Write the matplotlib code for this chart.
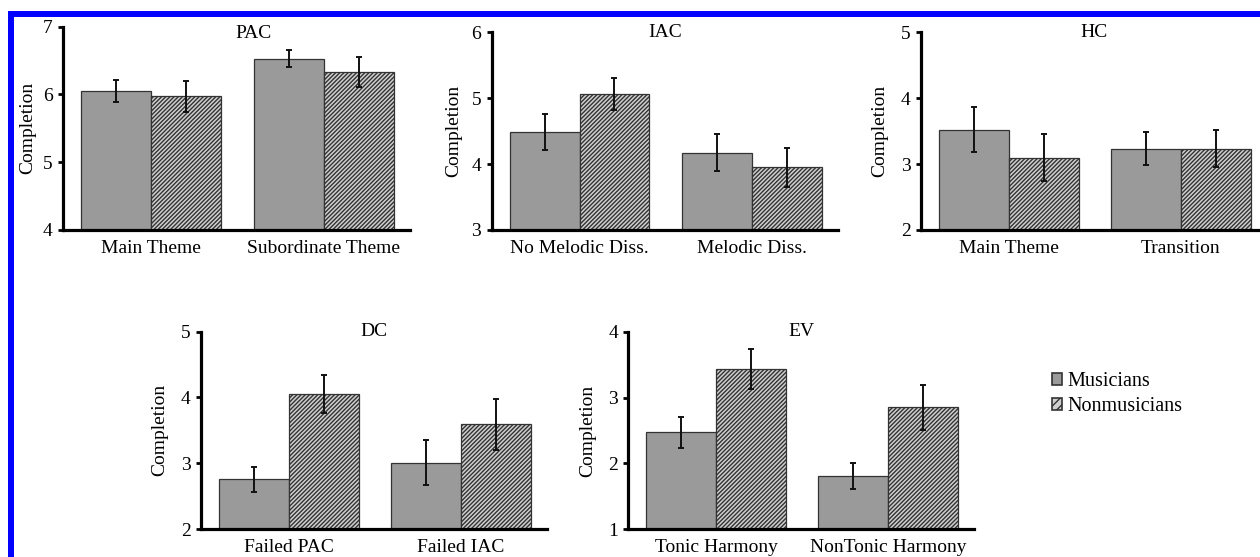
import matplotlib
matplotlib.use("Agg")
import matplotlib.pyplot as plt
from matplotlib.patches import Rectangle, Patch
import numpy as np

plt.rcParams['font.family'] = ['Liberation Serif', 'DejaVu Serif']
plt.rcParams['hatch.linewidth'] = 1.0
plt.rcParams['hatch.color'] = '#3a3a3a'

# ---- data ----
pac_cats = ['Main Theme', 'Subordinate Theme']
pac_mus = [6.05, 6.53]
pac_mus_err = [0.16, 0.12]
pac_non = [5.97, 6.33]
pac_non_err = [0.235, 0.22]

iac_cats = ['No Melodic Diss.', 'Melodic Diss.']
iac_mus = [4.49, 4.17]
iac_mus_err = [0.275, 0.28]
iac_non = [5.06, 3.95]
iac_non_err = [0.24, 0.29]

hc_cats = ['Main Theme', 'Transition']
hc_mus = [3.52, 3.23]
hc_mus_err = [0.34, 0.25]
hc_non = [3.10, 3.23]
hc_non_err = [0.355, 0.28]

dc_cats = ['Failed PAC', 'Failed IAC']
dc_mus = [2.76, 3.01]
dc_mus_err = [0.19, 0.34]
dc_non = [4.05, 3.59]
dc_non_err = [0.29, 0.39]

ev_cats = ['Tonic Harmony', 'NonTonic Harmony']
ev_mus = [2.47, 1.81]
ev_mus_err = [0.24, 0.20]
ev_non = [3.43, 2.85]
ev_non_err = [0.30, 0.34]

W, H = 1260, 557
fig = plt.figure(figsize=(W / 100, H / 100), dpi=100)

def px_axes(left, top, right, bottom):
    return fig.add_axes([left / W, 1 - bottom / H, (right - left) / W, (bottom - top) / H])

panels = [
    ('PAC', pac_cats, pac_mus, pac_mus_err, pac_non, pac_non_err, (4, 7), (63, 26.7, 410, 230), 0.55, 0.969, -0.078),
    ('IAC', iac_cats, iac_mus, iac_mus_err, iac_non, iac_non_err, (3, 6), (491.7, 32.3, 838, 230), 0.5, 1.0, -0.086),
    ('HC', hc_cats, hc_mus, hc_mus_err, hc_non, hc_non_err, (2, 5), (921, 32.3, 1267, 230), 0.5, 1.0, -0.095),
    ('DC', dc_cats, dc_mus, dc_mus_err, dc_non, dc_non_err, (2, 5), (201, 331.7, 547, 529), 0.5, 1.0, -0.095),
    ('EV', ev_cats, ev_mus, ev_mus_err, ev_non, ev_non_err, (1, 4), (628.3, 331.7, 974, 529.3), 0.5, 1.0, -0.094),
]

bw = 0.405
gray = '#9a9a9a'
hatch_face = '#cfcfcf'
edge = '#333333'
hatch = '////////'
for title, cats, mus, muse, non, none_, ylim, box, tx, ty, ylx in panels:
    ax = px_axes(*box)
    x = np.arange(len(cats))
    ax.bar(x - bw / 2, mus, bw, color=gray, edgecolor=edge, linewidth=0.9,
           yerr=muse, capsize=2.2, error_kw=dict(ecolor='#111111', elinewidth=1.4, capthick=1.4), zorder=2)
    ax.bar(x + bw / 2, non, bw, color=hatch_face, edgecolor=edge, linewidth=0.9, hatch=hatch,
           yerr=none_, capsize=2.2, error_kw=dict(ecolor='#111111', elinewidth=1.4, capthick=1.4), zorder=2)
    ax.set_ylim(*ylim)
    ax.set_xlim(-0.51, 1.5)
    ax.set_yticks(np.arange(ylim[0], ylim[1] + 1))
    ax.set_xticks(x)
    ax.set_xticklabels(cats, fontsize=14)
    ax.tick_params(axis='x', length=0, pad=7)
    ax.tick_params(axis='y', direction='out', length=3.5, width=2, pad=4, labelsize=14)
    for s in ['top', 'right']:
        ax.spines[s].set_visible(False)
    for s in ['left', 'bottom']:
        ax.spines[s].set_linewidth(2.3)
        ax.spines[s].set_color('black')
    ax.set_ylabel('Completion', fontsize=14)
    ax.yaxis.set_label_coords(ylx, 0.5)
    ax.text(tx, ty, title, transform=ax.transAxes, ha='center', va='center', fontsize=14)

handles = [Patch(facecolor=gray, edgecolor=edge, linewidth=1.2),
           Patch(facecolor=hatch_face, edgecolor=edge, hatch='////', linewidth=1.2)]
fig.legend(handles, ['Musicians', 'Nonmusicians'], loc='upper left',
           bbox_to_anchor=(1052 / W, 1 - 372 / H), frameon=False, fontsize=14.5,
           handlelength=0.5, handleheight=0.5, handletextpad=0.25, labelspacing=0.3,
           borderpad=0, borderaxespad=0)

# blue frame lines seen at top and left of the picture
fig.add_artist(Rectangle((8 / W, 1 - 17 / H), 1 - 8 / W, 6 / H, transform=fig.transFigure,
                         facecolor='#0000ff', edgecolor='none', zorder=10))
fig.add_artist(Rectangle((8 / W, 0), 6 / W, 1 - 11 / H, transform=fig.transFigure,
                         facecolor='#0000ff', edgecolor='none', zorder=10))

fig.savefig('out.png', dpi=100)
